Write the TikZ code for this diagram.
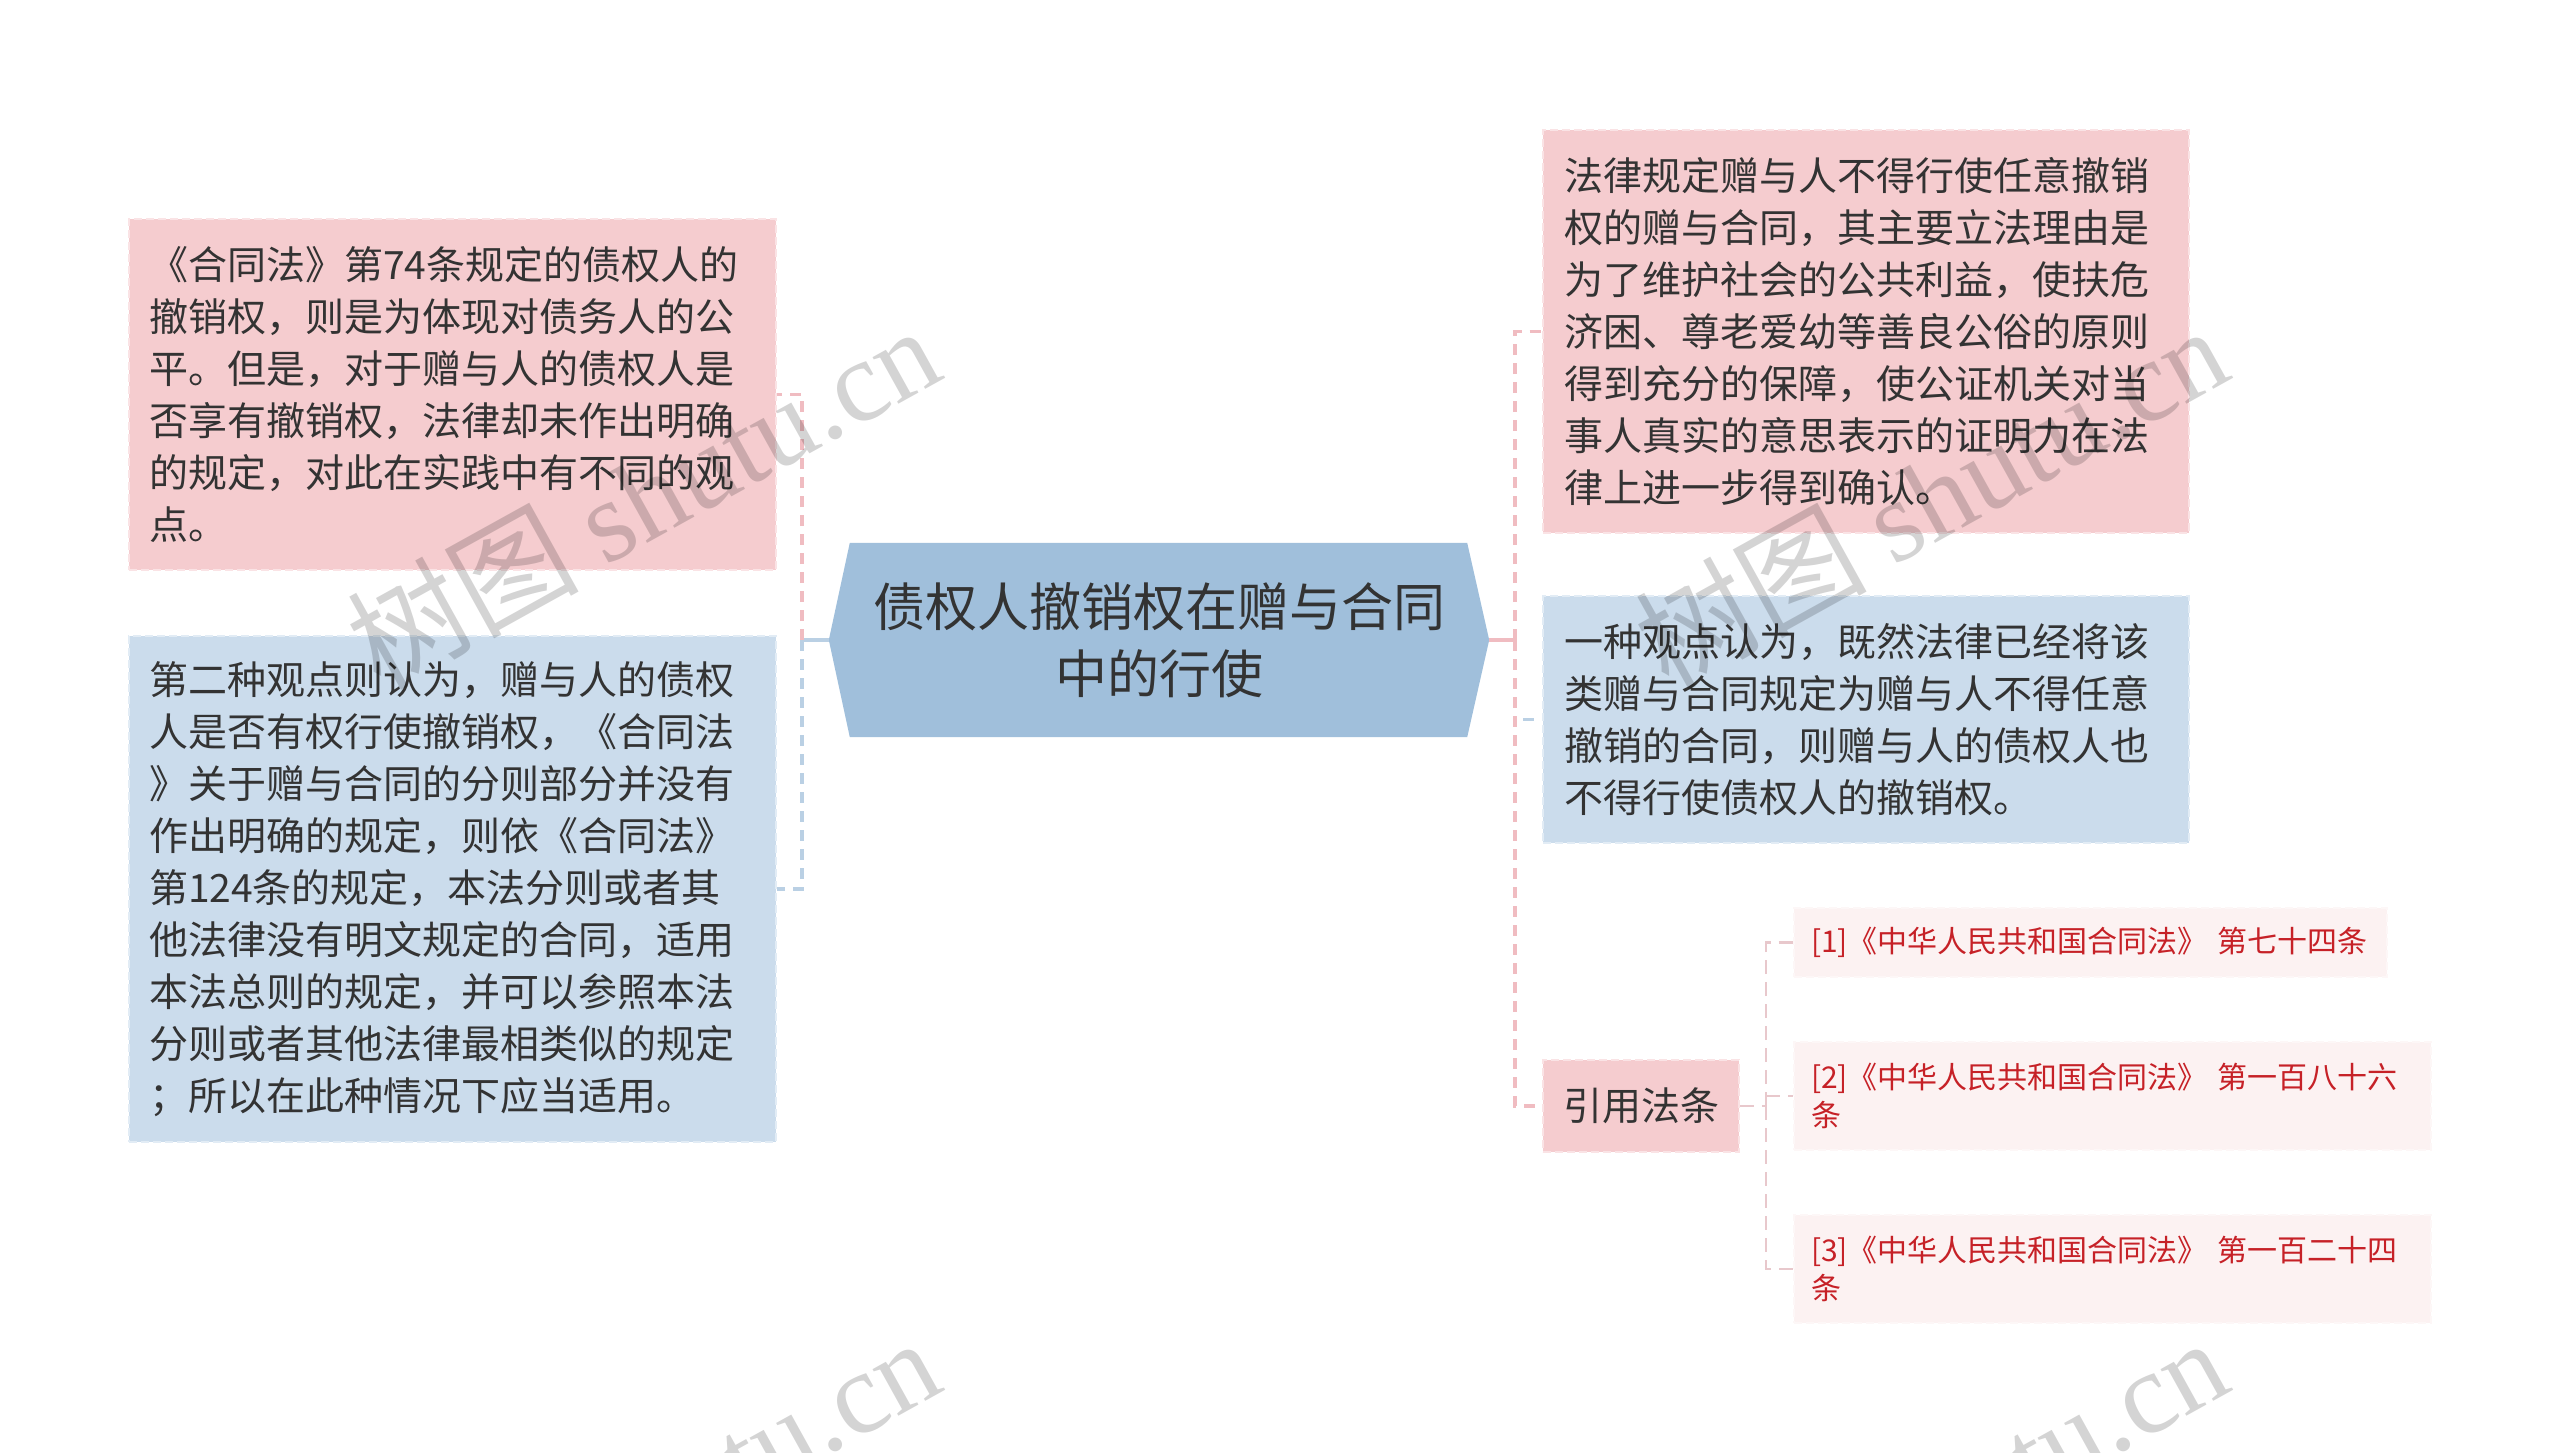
\documentclass[tikz,border=0pt]{standalone}
\usepackage{fontspec}
\setmainfont{Noto Sans CJK SC}
\newfontfamily\wmfont{Liberation Serif}
\usetikzlibrary{backgrounds}
\definecolor{pinkfill}{HTML}{F5CCCF}
\definecolor{bluefill}{HTML}{CBDCEC}
\definecolor{centerfill}{HTML}{A0BFDB}
\definecolor{reffill}{HTML}{FCF2F2}
\definecolor{reftext}{HTML}{C62127}
\definecolor{maintext}{HTML}{333333}
\definecolor{pinkline}{HTML}{F0BCC1}
\definecolor{blueline}{HTML}{BAD0E4}
\definecolor{refline}{HTML}{E8C8CC}
\begin{document}
\begin{tikzpicture}[x=1pt,y=-1pt,
  boxbase/.style={rectangle, inner xsep=20pt, inner ysep=0pt, align=left,
    text=maintext, font=\fontsize{39}{52}\selectfont, line width=2pt, dash pattern=on 8pt off 4pt},
  pinkbox/.style={boxbase, fill=pinkfill, draw=pinkfill!55!white},
  bluebox/.style={boxbase, fill=bluefill, draw=bluefill!55!white},
  refbox/.style={rectangle, inner xsep=17pt, inner ysep=0pt, align=left, fill=reffill,
    draw=reffill!60!white, line width=2pt, dash pattern=on 8pt off 4pt,
    text=reftext, font=\fontsize{30}{38}\selectfont},
  centerbox/.style={rectangle, inner sep=0pt, align=center, text=maintext,
    font=\fontsize{52}{67}\selectfont},
  pinkdash/.style={draw=pinkline, line width=3.5pt, dash pattern=on 11pt off 8pt},
  bluedash/.style={draw=blueline, line width=3.5pt, dash pattern=on 11pt off 8pt},
  pinksolid/.style={draw=pinkline, line width=3.5pt},
  bluesolid/.style={draw=blueline, line width=3.5pt},
  refdash/.style={draw=refline, line width=2.5pt, dash pattern=on 14pt off 8pt},
  wm/.style={anchor=base west, rotate=29, text=black, text opacity=0.17,
    font=\fontsize{116}{126}\selectfont, inner sep=0pt}
]
\useasboundingbox (0,0) rectangle (2560,1453);
\clip (0,0) rectangle (2560,1453);

% central topic
\node[centerbox, minimum width=660pt, minimum height=194pt] (c) at (1159,640)
  {债权人撤销权在赠与合同\\中的行使};
\begin{scope}[on background layer]
  \fill[centerfill] (c.west) -- ([xshift=21pt]c.north west) -- ([xshift=-22pt]c.north east)
    -- (c.east) -- ([xshift=-22pt]c.south east) -- ([xshift=21pt]c.south west) -- cycle;
\end{scope}

% left boxes
\node[pinkbox, minimum width=647pt, minimum height=351pt, text width=607pt] (L1) at (452.5,394.5)
  {《合同法》第74条规定的债权人的\\撤销权，则是为体现对债务人的公\\平。但是，对于赠与人的债权人是\\否享有撤销权，法律却未作出明确\\的规定，对此在实践中有不同的观\\点。};
\node[bluebox, minimum width=647pt, minimum height=506pt, text width=607pt] (L2) at (452.5,889)
  {第二种观点则认为，赠与人的债权\\人是否有权行使撤销权，《合同法\\》关于赠与合同的分则部分并没有\\作出明确的规定，则依《合同法》\\第124条的规定，本法分则或者其\\他法律没有明文规定的合同，适用\\本法总则的规定，并可以参照本法\\分则或者其他法律最相类似的规定\\；所以在此种情况下应当适用。};

% right boxes
\node[pinkbox, minimum width=646pt, minimum height=403pt, text width=604pt, inner xsep=21pt] (R1) at (1866,331.5)
  {法律规定赠与人不得行使任意撤销\\权的赠与合同，其主要立法理由是\\为了维护社会的公共利益，使扶危\\济困、尊老爱幼等善良公俗的原则\\得到充分的保障，使公证机关对当\\事人真实的意思表示的证明力在法\\律上进一步得到确认。};
\node[bluebox, minimum width=646pt, minimum height=247pt, text width=604pt, inner xsep=21pt] (R2) at (1866,719.5)
  {一种观点认为，既然法律已经将该\\类赠与合同规定为赠与人不得任意\\撤销的合同，则赠与人的债权人也\\不得行使债权人的撤销权。};
\node[pinkbox, minimum width=196pt, minimum height=92pt, text width=156pt] (R3) at (1641,1106)
  {引用法条};

% reference boxes
\node[refbox, minimum width=593pt, minimum height=69pt, text width=559pt] (Q1) at (2090.5,942.5)
  {[1]《中华人民共和国合同法》 第七十四条};
\node[refbox, minimum width=637pt, minimum height=108pt, text width=603pt] (Q2) at (2112.5,1096)
  {[2]《中华人民共和国合同法》 第一百八十六\\条};
\node[refbox, minimum width=637pt, minimum height=108pt, text width=603pt] (Q3) at (2112.5,1269)
  {[3]《中华人民共和国合同法》 第一百二十四\\条};

% connectors left
\coordinate (lj) at (802,640);
\draw[bluesolid] (c.west) -- (lj);
\draw[pinkdash] (lj) |- (L1.east);
\draw[bluedash] (lj) |- (L2.east);

% connectors right
\coordinate (rj) at (1515,640);
\draw[pinksolid] (c.east) -- (rj);
\draw[pinkdash] (rj) |- (R1.west);
\draw[pinkdash] (rj) |- (R3.west);
\draw[bluedash] ([xshift=8pt]rj |- R2.west) -- (R2.west);

% connectors refs
\coordinate (qj) at (1766,1106);
\draw[refdash] (R3.east) -- (qj);
\draw[refdash] (qj) |- (Q1.west);
\draw[refdash] (qj) |- (Q3.west);
\draw[refdash] (qj |- Q2.west) -- (Q2.west);

% watermarks
\node[wm] (wm1) at (380,692) {树图 {\wmfont shutu.cn}};
\node[wm] (wm2) at (1668,692) {树图 {\wmfont shutu.cn}};
\node[wm] (wm3) at (380,1704) {树图 {\wmfont shutu.cn}};
\node[wm] (wm4) at (1668,1704) {树图 {\wmfont shutu.cn}};
\end{tikzpicture}
\end{document}
